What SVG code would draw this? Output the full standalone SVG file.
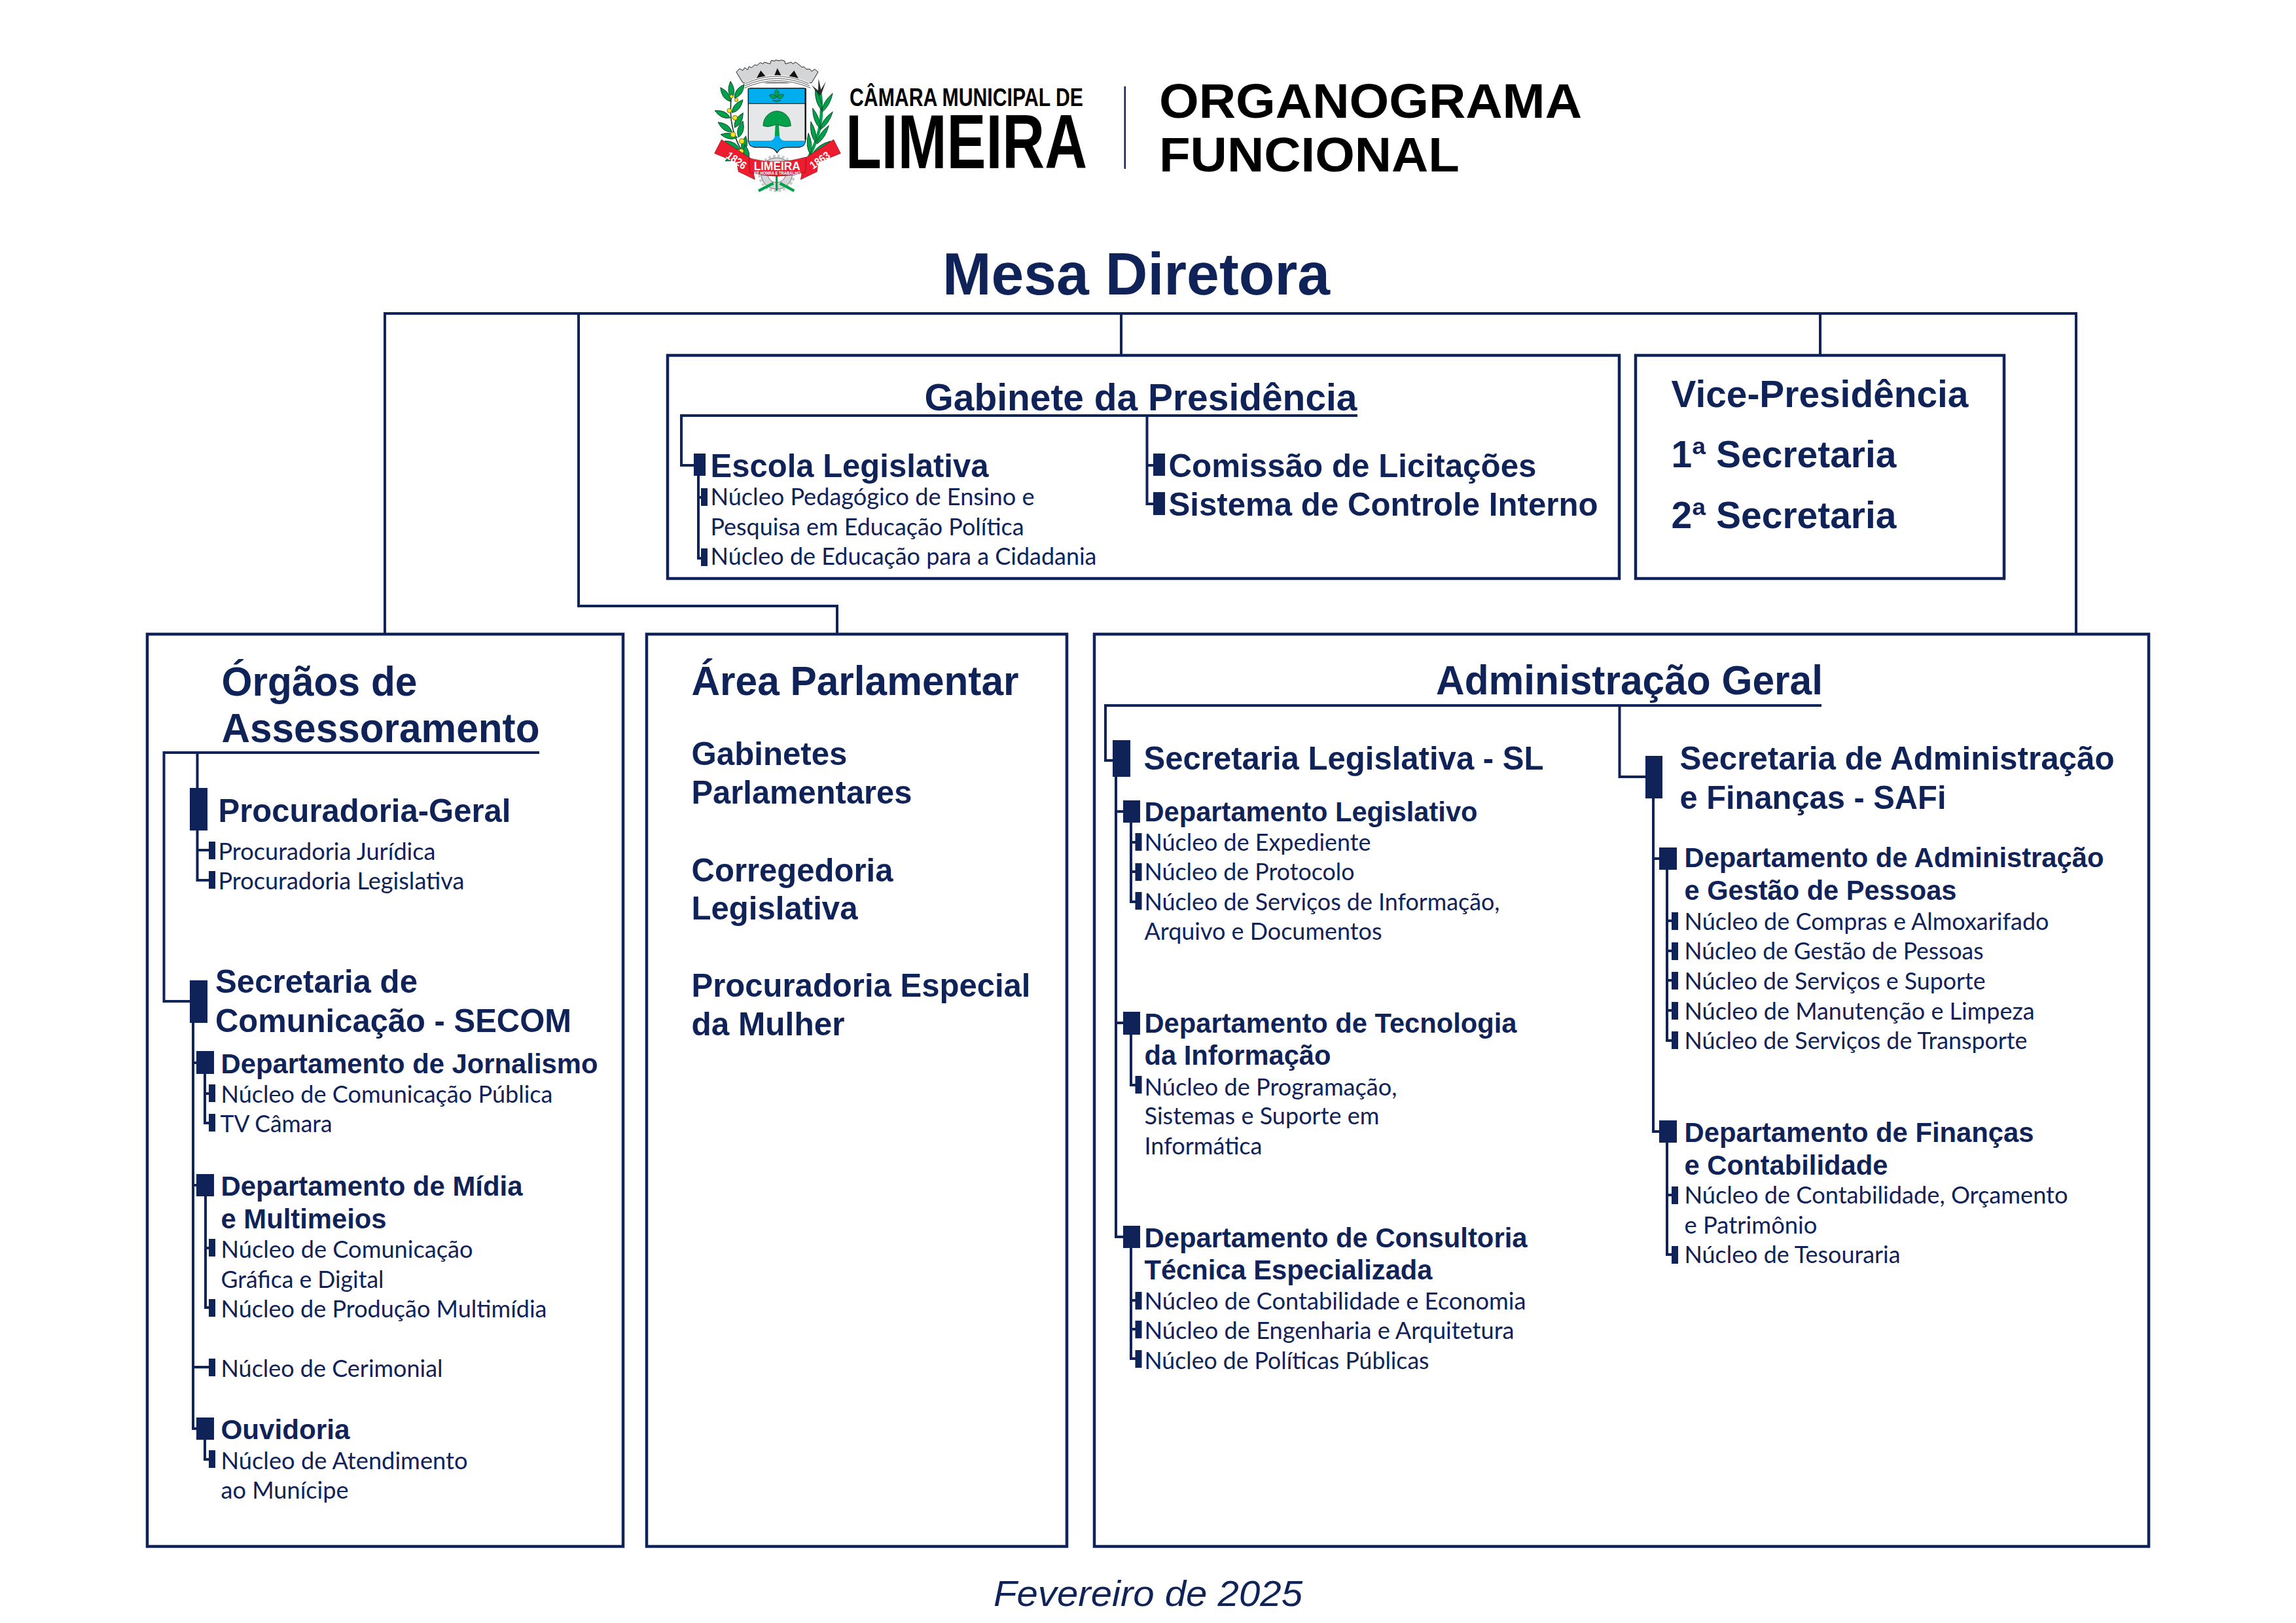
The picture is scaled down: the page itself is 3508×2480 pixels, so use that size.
<svg xmlns="http://www.w3.org/2000/svg" width="3508" height="2480" viewBox="0 0 3508 2480">
<style>
text{fill:#0f2359;font-family:"Liberation Sans",Arial,sans-serif;font-weight:700}
.t0{font-size:90px}
.t1{font-size:63px}
.t2{font-size:57px}
.t3{font-size:50px}
.t4{font-size:42px}
.s{font-family:Lato,"Noto Sans",sans-serif;font-weight:400;font-size:36px}
.k{fill:#000}
.box{fill:none;stroke:#0f2359;stroke-width:4.5}
.c{fill:none;stroke:#0f2359;stroke-width:4}
.m{fill:#0f2359}
.lf{fill:#00a14b;stroke:#0b3d23;stroke-width:2.5}
.lw{fill:#fff}
</style>
<defs>
<path id="leaf" d="M0 0Q26 -32 0 -78Q-26 -32 0 0Z"/>
<path id="cane" d="M0 0Q22 -44 8 -100Q-18 -44 0 0Z"/>
</defs>
<rect width="3508" height="2480" fill="#fff"/>

<g id="logo">
<g transform="translate(1085 85) scale(.3333)">
<circle cx="305" cy="540" r="72" fill="#d4d5d7" stroke="#333" stroke-width="2"/>
<circle cx="305" cy="540" r="80" fill="none" stroke="#c8cacc" stroke-width="12" stroke-dasharray="12 9"/>
<circle cx="305" cy="540" r="42" fill="#fff" stroke="#333" stroke-width="2"/>
<path d="M222 620L290 585M385 620L320 585" stroke="#00a14b" stroke-width="13" fill="none"/>
<path d="M305 545V620" stroke="#00a14b" stroke-width="10" fill="none"/>
<path d="M100 170Q85 260 105 340Q130 430 178 480" stroke="#0b3d23" stroke-width="5" fill="none"/>
<g class="lf">
<use href="#leaf" transform="translate(100 195) rotate(-5)"/>
<use href="#leaf" transform="translate(112 195) rotate(35)"/>
<use href="#leaf" transform="translate(92 210) rotate(-35)"/>
<use href="#leaf" transform="translate(100 262) rotate(40)"/>
<use href="#leaf" transform="translate(92 285) rotate(-65)"/>
<use href="#leaf" transform="translate(112 330) rotate(30)"/>
<use href="#leaf" transform="translate(100 350) rotate(-55)"/>
<use href="#leaf" transform="translate(130 375) rotate(15)"/>
<use href="#leaf" transform="translate(125 375) rotate(-80)"/>
<use href="#leaf" transform="translate(150 445) rotate(10)"/>
<use href="#leaf" transform="translate(135 430) rotate(-60)"/>
<use href="#leaf" transform="translate(140 450) rotate(-115)"/>
<use href="#leaf" transform="translate(172 485) rotate(-10)"/>
</g>
<g fill="#f4e41c" stroke="#3b3a10" stroke-width="2">
<circle cx="98" cy="187" r="8"/><circle cx="120" cy="203" r="8"/><circle cx="88" cy="252" r="10"/><circle cx="114" cy="285" r="11"/><circle cx="105" cy="362" r="12"/><circle cx="145" cy="392" r="12"/><circle cx="143" cy="438" r="11"/>
</g>
<path d="M505 170Q520 280 492 370Q470 440 440 485" stroke="#00a14b" stroke-width="14" fill="none"/>
<path d="M500 185L465 135L495 160L497 105L508 155L530 120L512 170Z" fill="#2b2b2b"/>
<g class="lf">
<use href="#cane" transform="translate(512 250) rotate(-22)"/>
<use href="#cane" transform="translate(512 260) rotate(25)"/>
<use href="#cane" transform="translate(505 335) rotate(-25)"/>
<use href="#cane" transform="translate(505 340) rotate(30)"/>
<use href="#cane" transform="translate(485 400) rotate(-18)"/>
<use href="#cane" transform="translate(490 405) rotate(28)"/>
<use href="#cane" transform="translate(460 455) rotate(-10)"/>
<use href="#cane" transform="translate(470 450) rotate(50)"/>
</g>
<path d="M175 150H437V385Q437 418 405 420H350Q318 422 307 445Q295 422 262 420H207Q175 418 175 385Z" fill="#e6e7e8" stroke="#111" stroke-width="4"/>
<path d="M175 150H437V220H175Z" fill="#00aeef" stroke="#111" stroke-width="3"/>
<path d="M178 390H275Q293 388 298 365H316Q322 388 340 390H434V395Q434 416 405 418H350Q318 420 307 442Q295 420 262 418H207Q178 416 178 395Z" fill="#00aeef"/>
<path d="M437 150V385" stroke="#111" stroke-width="7" fill="none"/>
<path d="M305 190C290 175 292 165 305 155C318 165 320 175 305 190ZM305 190C290 205 275 195 272 180C285 175 295 178 305 190ZM305 190C315 205 335 195 338 180C325 175 315 178 305 190ZM285 205H325L305 212Z" fill="#00a14b" stroke="#0b5d60" stroke-width="3"/>
<path d="M243 322C243 280 275 254 306 254C338 254 370 280 370 322Q350 330 325 322Q305 312 285 322Q262 330 243 322Z" fill="#00a14b" stroke="#0b3d23" stroke-width="2"/>
<path d="M299 318H315L318 368H296Z" fill="#00a14b"/>
<path d="M120 75L135 60L150 68L158 55L172 65L178 50L190 55L205 42L215 45L230 32L243 38L248 30L275 38L280 22L297 25L300 20L318 24L325 20L342 25L345 38L372 30L378 38L392 30L408 42L420 52L432 52L440 62L458 62L465 72L480 62L495 75L465 125L150 125Z" fill="#d4d5d7" stroke="#222" stroke-width="3"/>
<path d="M212 105L232 68L258 100ZM295 90L308 58L325 90ZM358 100L385 68L405 105Z" fill="#111"/>
<path d="M165 138Q305 70 450 138" stroke="#fff" stroke-width="30" fill="none"/>
<path d="M162 128Q305 62 452 128M160 138Q305 72 456 138M158 148Q305 82 460 148" stroke="#333" stroke-width="2.500" fill="none"/>
<path d="M20 448L52 385L185 470L205 568L130 532L122 490Z" fill="#ed1c2e" stroke="#7a1018" stroke-width="2"/>
<path d="M598 448L566 385L435 470L415 568L490 532L495 490Z" fill="#ed1c2e" stroke="#7a1018" stroke-width="2"/>
<path d="M178 470Q305 505 440 465L437 535Q305 570 182 535Z" fill="#ed1c2e" stroke="#7a1018" stroke-width="2"/>
<text class="lw" style="font-size:50px" transform="translate(70 466) rotate(35)" textLength="100" lengthAdjust="spacingAndGlyphs">1826</text>
<text class="lw" style="font-size:50px" transform="translate(472 522) rotate(-35)" textLength="100" lengthAdjust="spacingAndGlyphs">1863</text>
<text class="lw" style="font-size:55px" x="200" y="525" textLength="213" lengthAdjust="spacingAndGlyphs">LIMEIRA</text>
<text class="lw" style="font-size:22px" x="202" y="546" textLength="212" lengthAdjust="spacingAndGlyphs">FÉ HONRA E TRABALHO</text>
</g>
<text class="k" x="1298" y="161.500" style="font-size:39px" textLength="357" lengthAdjust="spacingAndGlyphs">CÂMARA MUNICIPAL DE</text>
<text class="k" x="1292" y="257" style="font-size:117px" textLength="369" lengthAdjust="spacingAndGlyphs">LIMEIRA</text>
<rect x="1717.500" y="132" width="2.500" height="126" fill="#0f2359"/>
</g>

<g id="title">
<text class="k" x="1771" y="180" style="font-size:75px" textLength="646" lengthAdjust="spacingAndGlyphs">ORGANOGRAMA</text>
<text class="k" x="1771" y="262" style="font-size:75px" textLength="459" lengthAdjust="spacingAndGlyphs">FUNCIONAL</text>
</g>

<g id="connectors">
<path class="c" d="M588 969V479H3172V969M884 479V926H1279V969M1713 479V543M2781 479V543"/>
<path class="c" d="M2074 635H1041V711H1062M1067 727V853H1073M1067 760H1073M1752.500 635V770H1764M1752.500 711H1764"/>
<path class="c" d="M824 1150H250.500V1530H292M301.500 1150V1206M301.500 1269V1345H320M301.500 1299H320"/>
<path class="c" d="M295 1563V2183H302M295 1624H302M295 1811H302M295 2089H320M313 1641V1716H320M313 1671H320M314 1828V1998H320M314 1907H320M313 2200V2230H320"/>
<path class="c" d="M2783 1078H1689V1162H1702M1705 1187V1890H1718M1705 1240H1718M1705 1563H1718M1728 1257V1378H1736M1728 1287H1736M1728 1332H1736M1728 1581V1658H1736M1728 1907V2076H1736M1728 1987H1736M1728 2031H1736"/>
<path class="c" d="M2474.500 1078V1187H2516M2526 1220V1729H2537M2526 1312H2537M2547 1329V1590H2556M2547 1407H2556M2547 1453H2556M2547 1498H2556M2547 1544H2556M2547 1746V1917H2556M2547 1826H2556"/>
</g>

<g id="mesa"><text class="t0" x="1440" y="450" textLength="592" lengthAdjust="spacingAndGlyphs">Mesa Diretora</text></g>

<g id="gabinete">
<rect class="box" x="1020" y="543" width="1454" height="341"/>
<text class="t2" x="1412.500" y="627" textLength="661" lengthAdjust="spacingAndGlyphs">Gabinete da Presidência</text>
</g>
<g id="escola">
<rect class="m" x="1060" y="693" width="18" height="34"/>
<rect class="m" x="1071" y="746" width="10" height="27"/>
<rect class="m" x="1071" y="838" width="10" height="27"/>
<text class="t3" x="1085.500" y="729" textLength="425" lengthAdjust="spacingAndGlyphs">Escola Legislativa</text>
<text class="s" x="1085.500" y="772" textLength="495" lengthAdjust="spacingAndGlyphs">Núcleo Pedagógico de Ensino e</text>
<text class="s" x="1085.500" y="818" textLength="479" lengthAdjust="spacingAndGlyphs">Pesquisa em Educação Política</text>
<text class="s" x="1085.500" y="863" textLength="590" lengthAdjust="spacingAndGlyphs">Núcleo de Educação para a Cidadania</text>
</g>
<g id="comissao">
<rect class="m" x="1762" y="693" width="18" height="34"/>
<text class="t3" x="1785.500" y="729" textLength="562" lengthAdjust="spacingAndGlyphs">Comissão de Licitações</text>
</g>
<g id="controle">
<rect class="m" x="1762" y="752" width="18" height="35"/>
<text class="t3" x="1785.500" y="788" textLength="656" lengthAdjust="spacingAndGlyphs">Sistema de Controle Interno</text>
</g>

<g id="vice">
<rect class="box" x="2499" y="543" width="563" height="341"/>
<text class="t2" x="2553.500" y="622" textLength="454" lengthAdjust="spacingAndGlyphs">Vice-Presidência</text>
<text class="t2" x="2553.500" y="714" textLength="344" lengthAdjust="spacingAndGlyphs">1ª Secretaria</text>
<text class="t2" x="2553.500" y="807" textLength="344" lengthAdjust="spacingAndGlyphs">2ª Secretaria</text>
</g>

<g id="orgaos">
<rect class="box" x="225" y="969" width="727" height="1394"/>
<text class="t1" x="338.500" y="1063" textLength="299" lengthAdjust="spacingAndGlyphs">Órgãos de</text>
<text class="t1" x="338.500" y="1134" textLength="486" lengthAdjust="spacingAndGlyphs">Assessoramento</text>
</g>
<g id="procuradoria">
<rect class="m" x="290" y="1204" width="27" height="65"/>
<rect class="m" x="319" y="1286" width="10" height="27"/>
<rect class="m" x="319" y="1331" width="10" height="27"/>
<text class="t3" x="333.500" y="1256" textLength="447" lengthAdjust="spacingAndGlyphs">Procuradoria-Geral</text>
<text class="s" x="333.500" y="1314" textLength="332" lengthAdjust="spacingAndGlyphs">Procuradoria Jurídica</text>
<text class="s" x="333.500" y="1359" textLength="376" lengthAdjust="spacingAndGlyphs">Procuradoria Legislativa</text>
</g>
<g id="secom">
<rect class="m" x="290" y="1498" width="27" height="65"/>
<text class="t3" x="329" y="1517" textLength="309" lengthAdjust="spacingAndGlyphs">Secretaria de</text>
<text class="t3" x="329" y="1577" textLength="544" lengthAdjust="spacingAndGlyphs">Comunicação - SECOM</text>
</g>
<g id="jornalismo">
<rect class="m" x="300" y="1606" width="27" height="35"/>
<rect class="m" x="319" y="1657" width="10" height="27"/>
<rect class="m" x="319" y="1702" width="10" height="27"/>
<text class="t4" x="337.500" y="1640" textLength="576" lengthAdjust="spacingAndGlyphs">Departamento de Jornalismo</text>
<text class="s" x="337.500" y="1685" textLength="507" lengthAdjust="spacingAndGlyphs">Núcleo de Comunicação Pública</text>
<text class="s" x="336.500" y="1730" textLength="171" lengthAdjust="spacingAndGlyphs">TV Câmara</text>
</g>
<g id="midia">
<rect class="m" x="300" y="1794" width="27" height="34"/>
<rect class="m" x="319" y="1893" width="10" height="27"/>
<rect class="m" x="319" y="1985" width="10" height="27"/>
<text class="t4" x="337.500" y="1827" textLength="461" lengthAdjust="spacingAndGlyphs">Departamento de Mídia</text>
<text class="t4" x="337.500" y="1877" textLength="253" lengthAdjust="spacingAndGlyphs">e Multimeios</text>
<text class="s" x="337.500" y="1922" textLength="385" lengthAdjust="spacingAndGlyphs">Núcleo de Comunicação</text>
<text class="s" x="337.500" y="1968" textLength="249" lengthAdjust="spacingAndGlyphs">Gráfica e Digital</text>
<text class="s" x="337.500" y="2013" textLength="498" lengthAdjust="spacingAndGlyphs">Núcleo de Produção Multimídia</text>
</g>
<g id="cerimonial">
<rect class="m" x="319" y="2076" width="10" height="27"/>
<text class="s" x="337.500" y="2104" textLength="339" lengthAdjust="spacingAndGlyphs">Núcleo de Cerimonial</text>
</g>
<g id="ouvidoria">
<rect class="m" x="300" y="2166" width="27" height="34"/>
<rect class="m" x="319" y="2216" width="10" height="27"/>
<text class="t4" x="337.500" y="2199" textLength="197" lengthAdjust="spacingAndGlyphs">Ouvidoria</text>
<text class="s" x="337.500" y="2245" textLength="377" lengthAdjust="spacingAndGlyphs">Núcleo de Atendimento</text>
<text class="s" x="337.500" y="2290" textLength="195" lengthAdjust="spacingAndGlyphs">ao Munícipe</text>
</g>

<g id="area">
<rect class="box" x="988" y="969" width="642" height="1394"/>
<text class="t1" x="1056.500" y="1062" textLength="500" lengthAdjust="spacingAndGlyphs">Área Parlamentar</text>
<text class="t3" x="1056.500" y="1169" textLength="238" lengthAdjust="spacingAndGlyphs">Gabinetes</text>
<text class="t3" x="1056.500" y="1228" textLength="337" lengthAdjust="spacingAndGlyphs">Parlamentares</text>
<text class="t3" x="1056.500" y="1347" textLength="308" lengthAdjust="spacingAndGlyphs">Corregedoria</text>
<text class="t3" x="1056.500" y="1405" textLength="254" lengthAdjust="spacingAndGlyphs">Legislativa</text>
<text class="t3" x="1056.500" y="1523" textLength="518" lengthAdjust="spacingAndGlyphs">Procuradoria Especial</text>
<text class="t3" x="1056.500" y="1582" textLength="234" lengthAdjust="spacingAndGlyphs">da Mulher</text>
</g>

<g id="administracao">
<rect class="box" x="1672" y="969" width="1611" height="1394"/>
<text class="t1" x="2194" y="1061" textLength="591" lengthAdjust="spacingAndGlyphs">Administração Geral</text>
</g>
<g id="sl">
<rect class="m" x="1700" y="1131" width="27" height="56"/>
<text class="t3" x="1747.500" y="1176" textLength="611" lengthAdjust="spacingAndGlyphs">Secretaria Legislativa - SL</text>
</g>
<g id="dep-legislativo">
<rect class="m" x="1716" y="1223" width="26" height="34"/>
<rect class="m" x="1734.500" y="1273" width="10" height="27"/>
<rect class="m" x="1734.500" y="1319" width="10" height="27"/>
<rect class="m" x="1734.500" y="1363" width="10" height="27"/>
<text class="t4" x="1748.500" y="1255" textLength="509" lengthAdjust="spacingAndGlyphs">Departamento Legislativo</text>
<text class="s" x="1748.500" y="1300" textLength="346" lengthAdjust="spacingAndGlyphs">Núcleo de Expediente</text>
<text class="s" x="1748.500" y="1345" textLength="321" lengthAdjust="spacingAndGlyphs">Núcleo de Protocolo</text>
<text class="s" x="1748.500" y="1391" textLength="543" lengthAdjust="spacingAndGlyphs">Núcleo de Serviços de Informação,</text>
<text class="s" x="1748.500" y="1436" textLength="363" lengthAdjust="spacingAndGlyphs">Arquivo e Documentos</text>
</g>
<g id="dep-tecnologia">
<rect class="m" x="1716" y="1546" width="26" height="35"/>
<rect class="m" x="1734.500" y="1644" width="10" height="27"/>
<text class="t4" x="1748.500" y="1578" textLength="569" lengthAdjust="spacingAndGlyphs">Departamento de Tecnologia</text>
<text class="t4" x="1748.500" y="1627" textLength="285" lengthAdjust="spacingAndGlyphs">da Informação</text>
<text class="s" x="1748.500" y="1674" textLength="386" lengthAdjust="spacingAndGlyphs">Núcleo de Programação,</text>
<text class="s" x="1748.500" y="1718" textLength="359" lengthAdjust="spacingAndGlyphs">Sistemas e Suporte em</text>
<text class="s" x="1748.500" y="1764" textLength="180" lengthAdjust="spacingAndGlyphs">Informática</text>
</g>
<g id="dep-consultoria">
<rect class="m" x="1716" y="1873" width="26" height="34"/>
<rect class="m" x="1734.500" y="1974" width="10" height="27"/>
<rect class="m" x="1734.500" y="2018" width="10" height="27"/>
<rect class="m" x="1734.500" y="2063" width="10" height="27"/>
<text class="t4" x="1748.500" y="1906" textLength="585" lengthAdjust="spacingAndGlyphs">Departamento de Consultoria</text>
<text class="t4" x="1748.500" y="1955" textLength="440" lengthAdjust="spacingAndGlyphs">Técnica Especializada</text>
<text class="s" x="1748.500" y="2001" textLength="583" lengthAdjust="spacingAndGlyphs">Núcleo de Contabilidade e Economia</text>
<text class="s" x="1748.500" y="2046" textLength="565" lengthAdjust="spacingAndGlyphs">Núcleo de Engenharia e Arquitetura</text>
<text class="s" x="1748.500" y="2092" textLength="435" lengthAdjust="spacingAndGlyphs">Núcleo de Políticas Públicas</text>
</g>
<g id="safi">
<rect class="m" x="2514" y="1155" width="26" height="65"/>
<text class="t3" x="2566.500" y="1176" textLength="664" lengthAdjust="spacingAndGlyphs">Secretaria de Administração</text>
<text class="t3" x="2566.500" y="1236" textLength="407" lengthAdjust="spacingAndGlyphs">e Finanças - SAFi</text>
</g>
<g id="dep-administracao">
<rect class="m" x="2535" y="1295" width="27" height="34"/>
<rect class="m" x="2554" y="1394" width="10" height="27"/>
<rect class="m" x="2554" y="1440" width="10" height="27"/>
<rect class="m" x="2554" y="1485" width="10" height="27"/>
<rect class="m" x="2554" y="1531" width="10" height="27"/>
<rect class="m" x="2554" y="1576" width="10" height="27"/>
<text class="t4" x="2573.500" y="1325" textLength="641" lengthAdjust="spacingAndGlyphs">Departamento de Administração</text>
<text class="t4" x="2573.500" y="1375" textLength="416" lengthAdjust="spacingAndGlyphs">e Gestão de Pessoas</text>
<text class="s" x="2573.500" y="1421" textLength="557" lengthAdjust="spacingAndGlyphs">Núcleo de Compras e Almoxarifado</text>
<text class="s" x="2573.500" y="1466" textLength="457" lengthAdjust="spacingAndGlyphs">Núcleo de Gestão de Pessoas</text>
<text class="s" x="2573.500" y="1512" textLength="460" lengthAdjust="spacingAndGlyphs">Núcleo de Serviços e Suporte</text>
<text class="s" x="2573.500" y="1558" textLength="535" lengthAdjust="spacingAndGlyphs">Núcleo de Manutenção e Limpeza</text>
<text class="s" x="2573.500" y="1603" textLength="524" lengthAdjust="spacingAndGlyphs">Núcleo de Serviços de Transporte</text>
</g>
<g id="dep-financas">
<rect class="m" x="2535" y="1712" width="27" height="34"/>
<rect class="m" x="2554" y="1813" width="10" height="27"/>
<rect class="m" x="2554" y="1904" width="10" height="27"/>
<text class="t4" x="2573.500" y="1745" textLength="534" lengthAdjust="spacingAndGlyphs">Departamento de Finanças</text>
<text class="t4" x="2573.500" y="1795" textLength="311" lengthAdjust="spacingAndGlyphs">e Contabilidade</text>
<text class="s" x="2573.500" y="1839" textLength="586" lengthAdjust="spacingAndGlyphs">Núcleo de Contabilidade, Orçamento</text>
<text class="s" x="2573.500" y="1885" textLength="203" lengthAdjust="spacingAndGlyphs">e Patrimônio</text>
<text class="s" x="2573.500" y="1930" textLength="330" lengthAdjust="spacingAndGlyphs">Núcleo de Tesouraria</text>
</g>

<g id="data"><text x="1518" y="2454" style="font-size:55px;font-style:italic;font-weight:400" textLength="472" lengthAdjust="spacingAndGlyphs">Fevereiro de 2025</text></g>
</svg>
